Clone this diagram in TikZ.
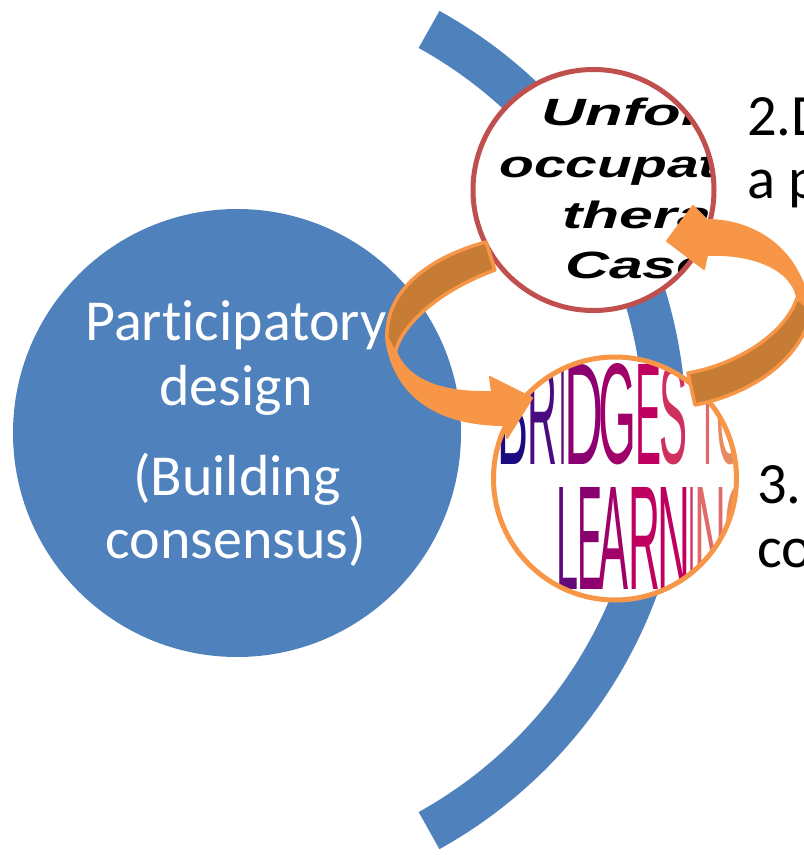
\documentclass[tikz,border=0pt]{standalone}
\usepackage{fontspec}
\setmainfont{Carlito}[Ligatures=NoCommon]
\newfontfamily\imgfont{Liberation Sans}
\definecolor{pdblue}{HTML}{4F81BD}
\definecolor{pdred}{HTML}{C0504D}
\definecolor{pdorange}{HTML}{F79646}
\definecolor{pddark}{HTML}{C77C36}
\definecolor{la}{HTML}{1C0A80}
\definecolor{lb}{HTML}{4A0A80}
\definecolor{lc}{HTML}{640A78}
\definecolor{ld}{HTML}{8A0070}
\definecolor{le}{HTML}{A00068}
\definecolor{lf}{HTML}{C00060}
\definecolor{lg}{HTML}{D03060}
\definecolor{lh}{HTML}{E06A6A}
\definecolor{li}{HTML}{E88A60}
\tikzset{
  bodytext/.style={inner sep=0pt,anchor=base,font=\fontsize{58}{58}\selectfont,text=white},
  sidetext/.style={inner sep=0pt,anchor=base west,font=\fontsize{58.5}{58.5}\selectfont,text=black},
  casetext/.style={inner sep=0pt,anchor=base west,font=\imgfont\bfseries\itshape\fontsize{38}{38}\selectfont,text=black},
  lettertext/.style={inner sep=0pt,anchor=south west,font=\imgfont\fontsize{40}{40}\selectfont},
  arrowlight/.style={fill=pdorange,draw=pdorange,line width=2pt,line join=round},
  arrowdark/.style={fill=pddark,draw=pdorange,line width=3.5pt,line join=round}
}
% name, x, bottom y, width, height, letter, colour
\newcommand{\bridgeletter}[7]{\node[lettertext,text=#7] (#1) at (#2,#3) {\resizebox{#4pt}{#5pt}{#6}};}
\begin{document}
\begin{tikzpicture}[x=1pt,y=-1pt]
\useasboundingbox (0,0) rectangle (804,855);
\clip (0,0) rectangle (804,855);
\fill[white] (0,0) rectangle (804,855);
% large circle and band
\node[circle,fill=pdblue,draw=none,inner sep=0pt,minimum size=448pt] (main) at (237,433) {};
\draw[pdblue,line width=42.5pt] (207,430) ++(-61:458) arc[start angle=-61,end angle=61,radius=458];
\node[bodytext] (t1) at (236,340) {Participatory};
\node[bodytext] (t2) at (236,405) {design};
\node[bodytext] (t3) at (237,495) {(Building};
\node[bodytext] (t4) at (236,558) {consensus)};
% side labels
\node[sidetext] (s1) at (747,135) {2.D};
\node[sidetext] (s2) at (747,198) {a p};
\node[sidetext] (s3) at (757,503) {3.};
\node[sidetext] (s4) at (757,567) {co};
% top circle
\fill[white] (593.5,190) circle (120);
\begin{scope}
\clip (593.5,190) circle (120);
\node[casetext] (c1) at (541,125) {\scalebox{1.62}[1]{Unfold}};
\node[casetext] (c2) at (499,177) {\scalebox{1.5}[1]{occupati}};
\node[casetext] (c3) at (562,228) {\scalebox{1.6}[1]{therap}};
\node[casetext] (c4) at (565,278) {\scalebox{1.6}[1]{Case}};
\end{scope}
\node[circle,draw=pdred,line width=5pt,inner sep=0pt,minimum size=241pt] (topc) at (593.5,190) {};
% bottom circle
\fill[white] (615,478.5) circle (121);
\begin{scope}
\clip (615,478.5) circle (121);
\bridgeletter{b1}{497}{465}{31}{100}{B}{la}
\bridgeletter{b2}{527}{465}{30}{100}{R}{lb}
\bridgeletter{b3}{559}{465}{7}{100}{I}{lc}
\bridgeletter{b4}{564}{465}{39}{100}{D}{ld}
\bridgeletter{b5}{598}{465}{38}{100}{G}{le}
\bridgeletter{b6}{635}{465}{26}{100}{E}{lf}
\bridgeletter{b7}{659}{465}{28}{100}{S}{lg}
\bridgeletter{b8}{697}{465}{21}{100}{T}{lh}
\bridgeletter{b9}{716}{465}{28}{100}{O}{li}
\bridgeletter{d1}{556}{590}{22}{102}{L}{lc}
\bridgeletter{d2}{577}{590}{25}{102}{E}{ld}
\bridgeletter{d3}{598}{590}{30}{102}{A}{le}
\bridgeletter{d4}{628}{590}{32}{102}{R}{lf}
\bridgeletter{d5}{657}{590}{33}{102}{N}{lf}
\bridgeletter{d6}{688}{590}{7}{102}{I}{lg}
\bridgeletter{d7}{694}{590}{32}{102}{N}{lh}
\bridgeletter{d8}{724}{590}{28}{102}{G}{li}
\end{scope}
\node[circle,draw=pdorange,line width=5pt,inner sep=0pt,minimum size=243pt] (botc) at (615,478.5) {};
% left curved arrow
\path[arrowlight] (386,338) .. controls (392,385) and (425,425) .. (505,425) -- (507,438) -- (532,398) -- (490,377) -- (492,392) .. controls (450,393) and (410,385) .. (396,352) -- cycle;
\path[arrowdark] (486,242) .. controls (430,257) and (385,290) .. (387,338) -- (395,354) .. controls (400,325) and (440,290) .. (495,270) -- cycle;
% right curved arrow
\path[arrowlight] (797,297) .. controls (790,265) and (745,253) .. (707,255) -- (704,269) -- (667,241) -- (693,206) -- (707,220) .. controls (750,220) and (800,245) .. (810,310) -- cycle;
\path[arrowdark] (688,373) -- (695,405) .. controls (745,395) and (800,365) .. (812,310) -- (797,298) .. controls (785,335) and (735,365) .. (688,373) -- cycle;
\end{tikzpicture}
\end{document}
